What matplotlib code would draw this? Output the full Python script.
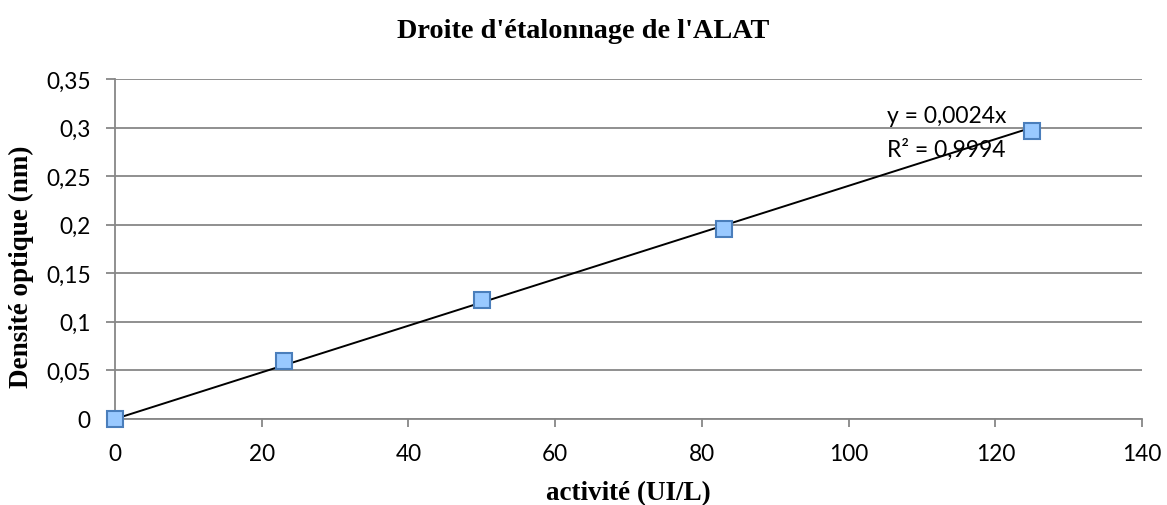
import matplotlib
matplotlib.use("Agg")
import matplotlib.pyplot as plt
import numpy as np
from matplotlib.ticker import FuncFormatter, MultipleLocator

# Calibration data: ALAT activity vs optical density
activite = [0, 23, 50, 83, 125]
densite = [0.0, 0.0595, 0.1225, 0.196, 0.2965]
pente = 0.0024
r2 = 0.9994

fig = plt.figure(figsize=(11.67, 5.06), dpi=100)
ax = fig.add_axes([0.0985, 0.170, 0.8801, 0.672])

grid_col = "#878787"
ax.set_xlim(0, 140)
ax.set_ylim(0, 0.35)
ax.yaxis.set_major_locator(MultipleLocator(0.05))
ax.xaxis.set_major_locator(MultipleLocator(20))
ax.yaxis.grid(True, color=grid_col, linewidth=1.3)
ax.set_axisbelow(True)

for side in ("top", "right"):
    ax.spines[side].set_visible(False)
for side in ("left", "bottom"):
    ax.spines[side].set_color(grid_col)
    ax.spines[side].set_linewidth(1.3)

def virgule(v, pos):
    s = f"{v:.2f}".rstrip("0").rstrip(".")
    return s.replace(".", ",")

ax.yaxis.set_major_formatter(FuncFormatter(virgule))
ax.xaxis.set_major_formatter(FuncFormatter(lambda v, p: f"{v:.0f}"))
ax.tick_params(axis="both", colors=grid_col, labelcolor="black", labelsize=16.3,
               width=1.3)
ax.tick_params(axis="y", length=6.5, pad=11)
ax.tick_params(axis="x", length=6, pad=11)
for lab in ax.get_xticklabels() + ax.get_yticklabels():
    lab.set_family("Lato")

# Linear trend through origin
xs = np.array([0, max(activite)])
ax.plot(xs, pente * xs, color="black", linewidth=1.4, zorder=3)

ax.plot(activite, densite, linestyle="none", marker="s", markersize=11,
        markerfacecolor="#99c9ff", markeredgecolor="#4a7ebb", markeredgewidth=1.5,
        zorder=4, clip_on=False)

ax.text(105.2, 0.312, f"y = {pente:.4f}x".replace(".", ","), fontsize=16.5,
        family="Lato", va="center", ha="left")
ax.text(105.2, 0.278, f"R² = {r2:.4f}".replace(".", ","), fontsize=16.5,
        family="Lato", va="center", ha="left")

fig.text(0.5, 1 - 32 / 506, "Droite d'étalonnage de l'ALAT", ha="center",
         va="center", fontsize=20.3, fontweight="bold", family="Liberation Serif")
fig.text(628 / 1167, 1 - 494 / 506, "activité (UI/L)", ha="center", va="center",
         fontsize=19.5, fontweight="bold", family="Liberation Serif")
fig.text(21 / 1167, 1 - 267 / 506, "Densité optique (nm)", ha="center",
         va="center", rotation=90, fontsize=19.5, fontweight="bold",
         family="Liberation Serif")

fig.savefig("out.png", dpi=100)
